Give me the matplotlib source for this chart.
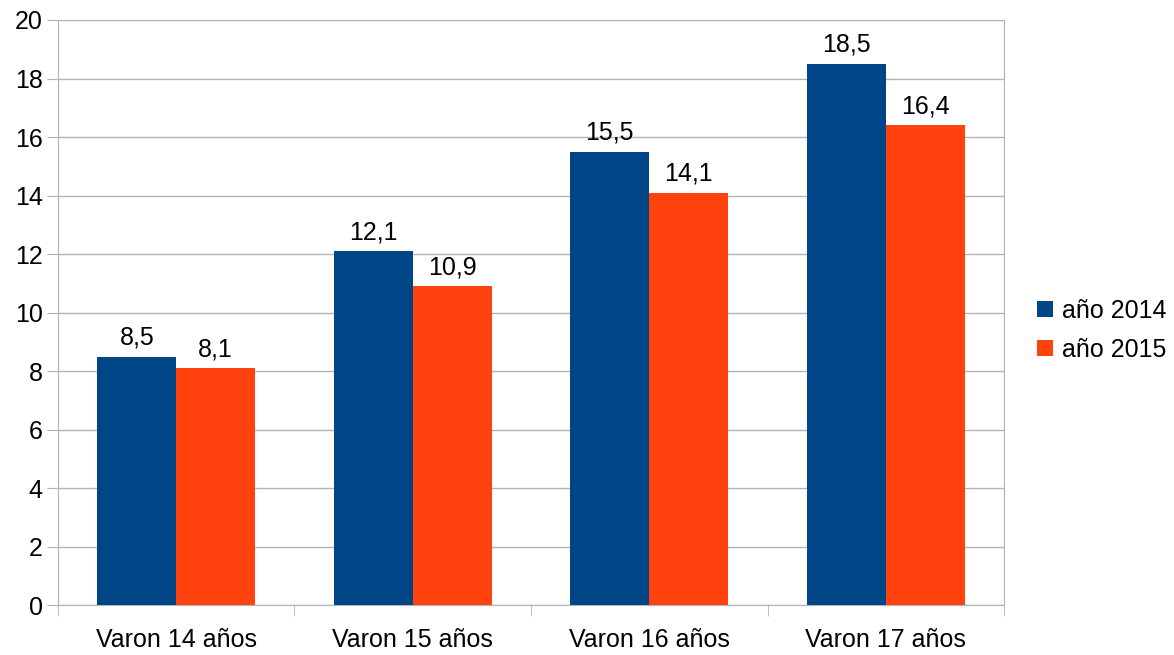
import numpy as np
import matplotlib.pyplot as plt

categorias = ["Varon 14 años", "Varon 15 años", "Varon 16 años", "Varon 17 años"]
serie_2014 = [8.5, 12.1, 15.5, 18.5]
serie_2015 = [8.1, 10.9, 14.1, 16.4]
nombres = ["año 2014", "año 2015"]

plt.rcParams['font.family'] = ['Liberation Sans', 'DejaVu Sans']

fig = plt.figure(figsize=(11.74, 6.55), dpi=100)
ax = fig.add_axes([0.0494, 0.0756, 0.8058, 0.8939])

x = np.arange(len(categorias))
w = 0.334
b1 = ax.bar(x - w/2, serie_2014, w, color='#004586', label=nombres[0], zorder=3)
b2 = ax.bar(x + w/2, serie_2015, w, color='#ff420e', label=nombres[1], zorder=3)

for barras in (b1, b2):
    for r in barras:
        v = r.get_height()
        ax.annotate(("%.1f" % v).replace('.', ','), (r.get_x() + r.get_width()/2, v),
                    xytext=(0, 5), textcoords='offset points',
                    ha='center', va='bottom', fontsize=18, color='black')

ax.set_xlim(-0.5, len(categorias) - 0.5)
ax.set_ylim(0, 20)
ax.set_yticks(np.arange(0, 21, 2))
ax.set_xticks(x)
ax.set_xticklabels(categorias)
ax.set_xticks(np.arange(-0.5, len(categorias), 1), minor=True)
ax.tick_params(axis='x', which='major', length=0, pad=16, labelsize=18)
ax.tick_params(axis='x', which='minor', length=8, color='#b3b3b3')
ax.tick_params(axis='y', length=8, color='#b3b3b3', pad=3, labelsize=18)
ax.grid(axis='y', color='#b3b3b3', linewidth=1, zorder=0)
for s in ax.spines.values():
    s.set_color('#b3b3b3')

ax.legend(loc='center left', bbox_to_anchor=(1.035, 0.47), frameon=False,
          fontsize=18, handlelength=0.65, handleheight=0.65, handletextpad=0.35,
          labelspacing=0.6, borderpad=0, borderaxespad=0)

plt.savefig('out.png', dpi=100)
